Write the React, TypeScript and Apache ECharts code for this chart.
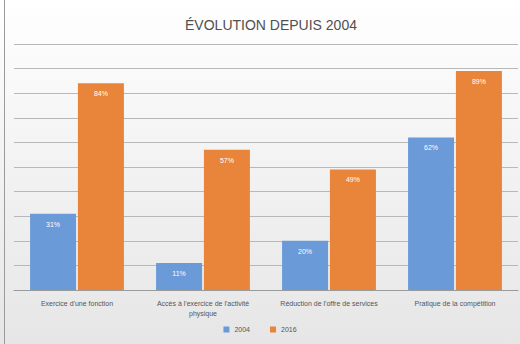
import React, { useEffect, useRef } from "react";
import * as echarts from "echarts";

const categories = [
  "Exercice d'une fonction",
  "Accès à l'exercice de l'activité\nphysique",
  "Réduction de l'offre de services",
  "Pratique de la compétition",
];
const seriesNames = ["2004", "2016"];
const values2004 = [31, 11, 20, 62];
const values2016 = [84, 57, 49, 89];

export default function App() {
  const ref = useRef<HTMLDivElement>(null);

  useEffect(() => {
    if (!ref.current) return;
    const chart = echarts.init(ref.current, null, { renderer: "svg" });
    const label = {
      show: true,
      position: "insideTop" as const,
      distance: 7,
      color: "#ffffff",
      fontSize: 7,
      fontFamily: "Liberation Sans",
      formatter: "{c}%",
    };
    chart.setOption({
      animation: false,
      backgroundColor: {
        type: "linear",
        x: 0,
        y: 0,
        x2: 0,
        y2: 1,
        colorStops: [
          { offset: 0, color: "#ffffff" },
          { offset: 0.5, color: "#f2f2f2" },
          { offset: 1, color: "#e6e6e6" },
        ],
      },
      title: {
        text: "ÉVOLUTION DEPUIS 2004",
        left: 266,
        top: 13,
        textAlign: "center",
        textStyle: {
          color: "#505050",
          fontSize: 14,
          fontWeight: "normal",
          fontFamily: "Liberation Sans",
        },
      },
      legend: {
        data: seriesNames,
        bottom: 6,
        left: "center",
        itemWidth: 6,
        itemHeight: 6,
        itemGap: 20,
        icon: "rect",
        textStyle: { color: "#555555", fontSize: 7, fontFamily: "Liberation Sans" },
      },
      grid: { left: 14, right: 2, top: 44, bottom: 54, containLabel: false },
      xAxis: {
        type: "category",
        data: categories,
        axisTick: { show: false },
        axisLine: { lineStyle: { color: "#9a9a9a", width: 1 } },
        axisLabel: {
          color: "#555555",
          fontSize: 7,
          fontFamily: "Liberation Sans",
          margin: 8,
          interval: 0,
          lineHeight: 10,
        },
      },
      yAxis: {
        type: "value",
        min: 0,
        max: 100,
        interval: 10,
        axisLabel: { show: false },
        axisLine: { show: false },
        axisTick: { show: false },
        splitLine: { lineStyle: { color: "#b8b8b8", width: 1 } },
      },
      series: [
        {
          name: seriesNames[0],
          type: "bar",
          data: values2004,
          barWidth: 46,
          barGap: "4%",
          itemStyle: { color: "#6a9ad8" },
          label,
        },
        {
          name: seriesNames[1],
          type: "bar",
          data: values2016,
          barWidth: 46,
          barGap: "4%",
          itemStyle: { color: "#e9853a" },
          label,
        },
      ],
      graphic: [
        {
          type: "line",
          shape: { x1: 4.5, y1: 0, x2: 4.5, y2: 344 },
          style: { stroke: "#9a9a9a", lineWidth: 1 },
        },
      ],
    });
    return () => chart.dispose();
  }, []);

  return (
    <div
      ref={ref}
      style={{ position: "fixed", left: 0, top: 0, width: 520, height: 344 }}
    />
  );
}
